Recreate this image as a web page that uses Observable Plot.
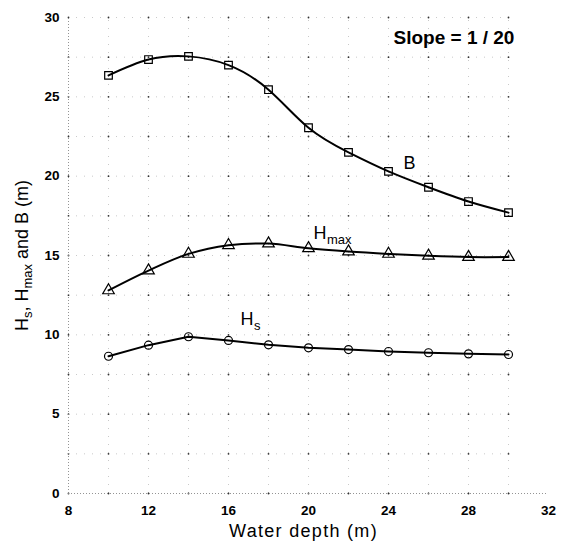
<!DOCTYPE html>
<html><head><meta charset="utf-8">
<script src="https://cdn.jsdelivr.net/npm/d3@7"></script>
<script src="https://cdn.jsdelivr.net/npm/@observablehq/plot@0.6"></script>
<style>body{margin:0;background:#fff} svg{display:block}</style>
</head><body><div id="chart"></div>
<script>
// ---- data ----
const depth = [10, 12, 14, 16, 18, 20, 22, 24, 26, 28, 30];
const seriesB = [26.35, 27.35, 27.55, 27.0, 25.45, 23.05, 21.5, 20.3, 19.3, 18.4, 17.7];
const seriesHmax = [12.8, 14.05, 15.1, 15.65, 15.75, 15.45, 15.25, 15.1, 14.98, 14.9, 14.9];
const seriesHs = [8.65, 9.35, 9.88, 9.65, 9.37, 9.18, 9.07, 8.95, 8.87, 8.8, 8.76];
const xTicks = [8, 12, 16, 20, 24, 28, 32];
const yTicks = [0, 5, 10, 15, 20, 25, 30];
const xGrid = [10, 12, 14, 16, 18, 20, 22, 24, 26, 28, 30];
const yGrid = [2.5, 5, 7.5, 10, 12.5, 15, 17.5, 20, 22.5, 25, 27.5, 30];
const labelMain = ["B", "H", "H"];
const labelSub = ["", "max", "s"];
const labelX = [24.75, 20.25, 16.6];
const labelY = [20.48, 16.07, 10.6];
const slopeText = "Slope = 1 / 20";
const slopeX = 24.25, slopeY = 28.36;
const xTitle = "Water depth (m)";
const yTitleParts = ["H", "s", ", H", "max", " and B (m)"];

const FONT = "'Liberation Sans', Arial, sans-serif";
const rows = vals => depth.map((d, i) => ({x: d, y: vals[i]}));
const cross = xGrid.concat([8]).flatMap(x => yGrid.concat([0]).map(y => ({x, y})));
const labels = labelMain.map((t, i) => ({t, s: labelSub[i], x: labelX[i], y: labelY[i]}));

const gridStyle = {stroke: "#bbb", strokeDasharray: "1,7", strokeWidth: 0.8};
const lineStyle = {x: "x", y: "y", stroke: "black", strokeWidth: 2};
const dotStyle = {x: "x", y: "y", stroke: "black", fill: "none", strokeWidth: 1.2};

const svg = Plot.plot({
  width: 564, height: 541,
  marginLeft: 68, marginRight: 16, marginTop: 17, marginBottom: 48,
  style: {fontFamily: FONT, background: "white", color: "black"},
  x: {domain: [8, 32]},
  y: {domain: [0, 30]},
  marks: [
    Plot.ruleX(xGrid, {...gridStyle, y1: 0, y2: 30}),
    Plot.ruleY(yGrid, {...gridStyle, x1: 8, x2: 30}),
    Plot.dot(cross, {x: "x", y: "y", r: 0.9, fill: "#333"}),
    Plot.ruleX([8], {y1: 0, y2: 30, stroke: "#888", strokeDasharray: "1,2", strokeWidth: 0.9}),
    Plot.ruleY([0], {x1: 8, x2: 32, stroke: "#888", strokeDasharray: "1,2", strokeWidth: 0.9}),
    Plot.axisX({ticks: xTicks, tickSize: 0, tickPadding: 12, fontSize: 13.5, fontWeight: "bold", label: null}),
    Plot.axisY({ticks: yTicks, tickSize: 0, tickPadding: 9, fontSize: 13.5, fontWeight: "bold", label: null}),
    Plot.line(rows(seriesB), {...lineStyle, curve: "natural"}),
    Plot.line(rows(seriesHmax), {...lineStyle, curve: "catmull-rom"}),
    Plot.line(rows(seriesHs), {...lineStyle, curve: "linear"}),
    Plot.dot(rows(seriesB), {...dotStyle, symbol: "square", r: 4.3}),
    Plot.dot(rows(seriesHmax), {...dotStyle, symbol: "triangle", r: 4.3}),
    Plot.dot(rows(seriesHs), {...dotStyle, symbol: "circle", r: 4}),
    Plot.text(labels, {x: "x", y: "y", text: "t", textAnchor: "start", lineAnchor: "bottom", fontSize: 18}),
    Plot.text(labels, {x: "x", y: "y", text: "s", textAnchor: "start", lineAnchor: "bottom", fontSize: 13, dx: 13.5, dy: 5}),
    Plot.text([slopeText], {x: () => slopeX, y: () => slopeY, text: d => d, textAnchor: "start", lineAnchor: "bottom", fontSize: 19, fontWeight: "bold"}),
    Plot.text([xTitle], {frameAnchor: "bottom", text: d => d, dx: -5, dy: 43, lineAnchor: "bottom", fontSize: 18}),
    Plot.text([yTitleParts.join("")], {frameAnchor: "left", text: d => d, dx: -46, rotate: -90, textAnchor: "middle", lineAnchor: "middle", fontSize: 18})
  ]
});

const texts = Array.from(svg.querySelectorAll("text"));
// letter spacing on x title
const xt = texts.find(t => t.textContent === xTitle);
if (xt) xt.setAttribute("letter-spacing", "1.3");
// rich y title with subscripts
const yt = texts.find(t => t.textContent === yTitleParts.join(""));
if (yt) {
  yt.textContent = "";
  const shifts = [[0, 18], [4, 13], [-4, 18], [4, 13], [-4, 18]];
  yTitleParts.forEach((t, i) => {
    const ts = document.createElementNS("http://www.w3.org/2000/svg", "tspan");
    ts.textContent = t;
    if (shifts[i][0]) ts.setAttribute("dy", shifts[i][0]);
    ts.setAttribute("font-size", shifts[i][1]);
    yt.appendChild(ts);
  });
}
document.getElementById("chart").appendChild(svg);
</script>
</body></html>
